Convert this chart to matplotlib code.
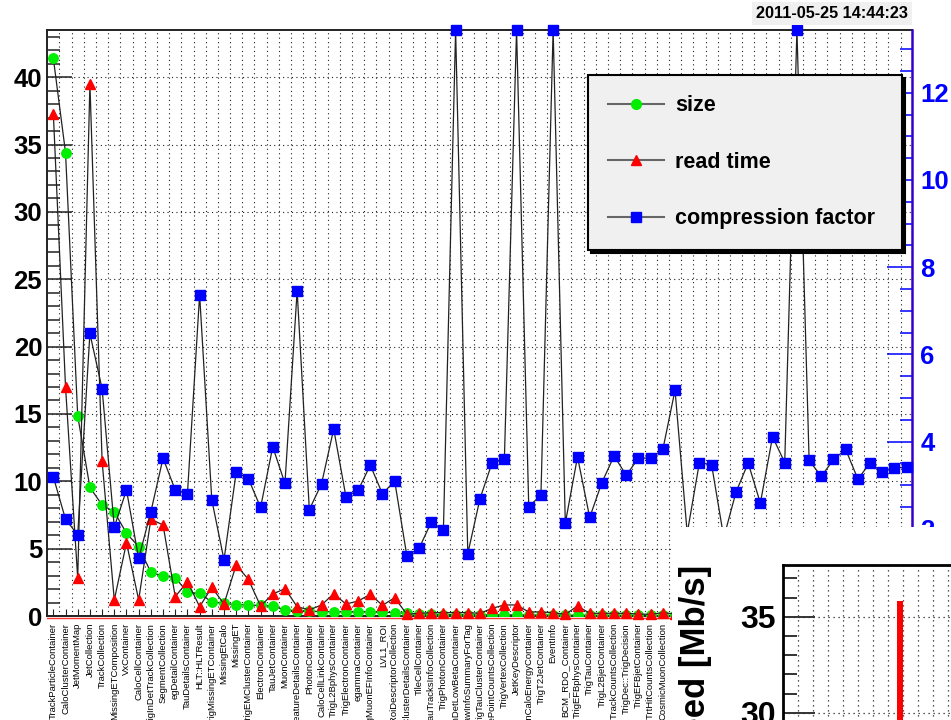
import numpy as np
import matplotlib
matplotlib.use('Agg')
import matplotlib.pyplot as plt
from matplotlib.lines import Line2D
from matplotlib.patches import Rectangle
from matplotlib.ticker import MultipleLocator, FixedLocator, NullFormatter
from matplotlib.transforms import offset_copy

plt.rcParams['font.family'] = ['Liberation Sans', 'DejaVu Sans']

# ---------------- data ----------------
categories = [
    "TrackParticleContainer", "CaloClusterContainer", "JetMomentMap", "JetCollection",
    "TrackCollection", "MissingETComposition", "VxContainer", "CaloCellContainer",
    "TrigInDetTrackCollection", "SegmentCollection", "egDetailContainer", "TauDetailsContainer",
    "HLT::HLTResult", "TrigMissingETContainer", "MissingEtCalo", "MissingET",
    "TrigEMClusterContainer", "ElectronContainer", "TauJetContainer", "MuonContainer",
    "CaloFeatureDetailsContainer", "PhotonContainer", "CaloCellLinkContainer", "TrigL2BphysContainer",
    "TrigElectronContainer", "egammaContainer", "TrigMuonEFInfoContainer", "LVL1_ROI",
    "TrigRoiDescriptorCollection", "CaloClusterDetailsContainer", "TileCellContainer",
    "TrigTauTracksInfoCollection", "TrigPhotonContainer", "InDetLowBetaContainer",
    "RawInfoSummaryForTag", "TrigTauClusterContainer", "TrigSpacePointCountsCollection",
    "TrigVertexCollection", "JetKeyDescriptor", "MuonCaloEnergyContainer", "TrigT2JetContainer",
    "EventInfo", "BCM_RDO_Container", "TrigEFBphysContainer", "TrigTauContainer",
    "TrigL2BjetContainer", "TrigTrackCountsCollection", "TrigDec::TrigDecision",
    "TrigEFBjetContainer", "TrigTrtHitCountsCollection", "CosmicMuonCollection",
    "", "", "", "", "", "", "", "", "", "", "", "", "", "", "", "", "", "", "", "",
]

size_vals = [
    41.4, 34.4, 14.85, 9.55, 8.24, 7.74, 6.14, 5.15, 3.24, 2.97,
    2.85, 1.76, 1.68, 1.04, 0.94, 0.84, 0.82, 0.78, 0.74, 0.45,
    0.40, 0.37, 0.32, 0.32, 0.30, 0.30, 0.30, 0.28, 0.25, 0.20,
    0.15, 0.12, 0.10, 0.10, 0.09, 0.09, 0.08, 0.08, 0.08, 0.07,
    0.07, 0.07, 0.06, 0.06, 0.06, 0.05, 0.05, 0.05, 0.05, 0.04,
    0.04, 0.04, 0.04, 0.04, 0.03, 0.03, 0.03, 0.03, 0.03, 0.03,
    0.02, 0.02, 0.02, 0.02, 0.02, 0.02, 0.02, 0.02, 0.02, 0.02, 0.02,
]

read_time = [
    37.3, 17.0, 2.8, 39.5, 11.5, 1.19, 5.44, 1.19, 7.18, 6.76,
    1.44, 2.55, 0.69, 2.13, 0.89, 3.79, 2.72, 0.74, 1.63, 2.03,
    0.69, 0.45, 0.82, 1.65, 0.89, 1.11, 1.61, 0.79, 1.36, 0.12,
    0.20, 0.25, 0.25, 0.25, 0.25, 0.20, 0.57, 0.82, 0.82, 0.30,
    0.30, 0.25, 0.12, 0.74, 0.20, 0.20, 0.20, 0.20, 0.15, 0.12,
    0.25, 0.15, 0.15, 0.15, 0.15, 0.15, 0.15, 0.15, 0.15, 0.15,
    0.15, 0.15, 0.15, 0.15, 0.15, 0.15, 0.15, 0.15, 0.15, 0.15, 0.15,
]

compression = [
    3.19, 2.22, 1.86, 6.48, 5.21, 2.04, 2.89, 1.32, 2.39, 3.62,
    2.89, 2.80, 7.37, 2.66, 1.29, 3.30, 3.15, 2.49, 3.88, 3.04,
    7.46, 2.44, 3.03, 4.29, 2.74, 2.88, 3.46, 2.80, 3.10, 1.38,
    1.55, 2.15, 1.98, 13.44, 1.43, 2.69, 3.52, 3.59, 13.44, 2.51,
    2.77, 13.44, 2.13, 3.65, 2.26, 3.06, 3.67, 3.23, 3.62, 3.62,
    3.82, 5.18, 1.90, 3.52, 3.47, 1.80, 2.84, 3.51, 2.59, 4.11,
    3.52, 13.44, 3.57, 3.20, 3.59, 3.82, 3.14, 3.51, 3.30, 3.40, 3.41,
]

speed_pos = [7.8]
speed_vals = [35.8]

series_labels = ["size", "read time", "compression factor"]
date_label = "2011-05-25 14:44:23"
speed_label = "Speed [Mb/s]"

# ---------------- figure ----------------
W, H = 951, 720
fig = plt.figure(figsize=(W / 100, H / 100), dpi=100)
fig.patch.set_facecolor('white')


def fx(px):
    return px / W


def fy(py):
    return 1 - py / H


ax = fig.add_axes([fx(47), fy(616), fx(912) - fx(47), fy(30) - fy(616)])
x = np.arange(len(categories))
ax.set_xlim(-0.52, 70.44)
ax.set_ylim(0, 43.5)

dot = (0, (1, 3))
# x ticks / grid
ax.set_xticks(x)
ax.set_xticklabels(categories, rotation=90, fontsize=6.8)
ax.xaxis.set_minor_locator(FixedLocator(np.arange(0.5, 70.0, 1.0)))
ax.tick_params(axis='x', which='major', direction='in', length=5, width=0.8,
               color='#222222', pad=5, top=False)
ax.tick_params(axis='x', which='minor', length=0)
ax.grid(axis='x', which='minor', linestyle=dot, color='#222222', linewidth=0.8)

# left y axis
ax.yaxis.set_major_locator(MultipleLocator(5))
ax.yaxis.set_minor_locator(MultipleLocator(1))
ax.tick_params(axis='y', which='major', direction='in', length=18, width=1.1,
               color='#222222', labelsize=18.5, pad=3.5, right=False)
ax.tick_params(axis='y', which='minor', direction='in', length=9.5, width=1.1,
               color='#222222', right=False)
for lab in ax.get_yticklabels():
    lab.set_fontweight('bold')
ax.grid(axis='y', which='major', linestyle=dot, color='#222222', linewidth=0.8)
ax.set_axisbelow(True)

for s in ['left', 'top', 'bottom']:
    ax.spines[s].set_linewidth(1.4)
    ax.spines[s].set_color('#222222')
ax.spines['right'].set_visible(False)

# thin red line just under the bottom frame
ax.plot([0, 1], [0, 0], color='#ff3333', linewidth=1.0, clip_on=False,
        transform=offset_copy(ax.transAxes, fig=fig, y=-1.6, units='points'))

line_kw = dict(color='#222222', linewidth=0.9)
ax.plot(x, size_vals, marker='o', markersize=6.8, markerfacecolor='#00ee00',
        markeredgecolor='#00ee00', zorder=3, **line_kw)
ax.plot(x, read_time, marker='^', markersize=7.2, markerfacecolor='#ff0000',
        markeredgecolor='#ff0000', zorder=4, clip_on=False, **line_kw)

# right axis
ax2 = ax.twinx()
ax2.set_ylim(0, 13.44)
ax2.plot(x, compression, marker='s', markersize=6.5, markerfacecolor='#0000ff',
         markeredgecolor='#0000ff', clip_on=False, zorder=5, **line_kw)
ax2.yaxis.set_major_locator(MultipleLocator(2))
ax2.yaxis.set_minor_locator(MultipleLocator(0.5))
ax2.tick_params(axis='y', which='major', direction='in', length=18, width=1.1,
                color='#0000ff', labelcolor='#0000ff', labelsize=18.5, pad=6)
ax2.tick_params(axis='y', which='minor', direction='in', length=9, width=1.1,
                color='#0000ff')
for lab in ax2.get_yticklabels():
    lab.set_fontweight('bold')
for s in ['left', 'top', 'bottom']:
    ax2.spines[s].set_visible(False)
ax2.spines['right'].set_color('#3300cc')
ax2.spines['right'].set_linewidth(1.8)

# legend
handles = [
    Line2D([], [], color='#666666', lw=1.5, marker='o', ms=7, mfc='#00ee00', mec='#00ee00'),
    Line2D([], [], color='#666666', lw=1.5, marker='^', ms=7, mfc='#ff0000', mec='#ff0000'),
    Line2D([], [], color='#666666', lw=1.5, marker='s', ms=6.5, mfc='#0000ff', mec='#0000ff'),
]
leg = ax2.legend(handles, series_labels, loc='upper left',
                 bbox_to_anchor=(fx(588), fy(248), fx(902) - fx(588), fy(75) - fy(248)),
                 bbox_transform=fig.transFigure, mode='expand', borderaxespad=0,
                 prop=dict(family='Liberation Sans', weight='bold', size=15.5),
                 handlelength=2.6, handletextpad=0.5, labelspacing=1.65, borderpad=0.95,
                 fancybox=False, shadow={'color': 'black', 'alpha': 1}, framealpha=1,
                 facecolor='#f0f0f0', edgecolor='black')
leg.get_frame().set_linewidth(1.5)
leg.set_zorder(10)

# date stamp
fig.text(fx(832), fy(13.5), date_label, ha='center', va='center', fontsize=11.7,
         fontweight='bold', bbox=dict(boxstyle='square,pad=0.25', fc='#f0f0f0', ec='none'))

# overlapping window (bottom-right)
fig.add_artist(Rectangle((fx(672), 0), 1 - fx(672), fy(527), transform=fig.transFigure,
                         facecolor='white', edgecolor='none', zorder=3))

ax3 = fig.add_axes([fx(783), -0.5, 1.3 - fx(783), fy(565) + 0.5])
ax3.set_zorder(4)
h3_px = (fy(565) + 0.5) * H
w3_px = (1.3 - fx(783)) * W
top3 = 35 + (616.7 - 565) / 19.2
ax3.set_ylim(top3 - h3_px / 19.2, top3)
ax3.set_xlim(0, w3_px / 15.0)
ax3.bar(speed_pos, speed_vals, width=0.4, color='#ff0000', zorder=3)
ax3.yaxis.set_major_locator(MultipleLocator(5))
ax3.yaxis.set_minor_locator(MultipleLocator(1))
ax3.xaxis.set_major_locator(FixedLocator(np.arange(1, 31)))
ax3.xaxis.set_major_formatter(NullFormatter())
ax3.tick_params(axis='x', which='both', length=0)
ax3.tick_params(axis='y', which='major', direction='in', length=23, width=1.4,
                color='#333333', labelsize=23, pad=5)
ax3.tick_params(axis='y', which='minor', direction='in', length=10, width=1.4,
                color='#333333')
for lab in ax3.get_yticklabels():
    lab.set_fontweight('bold')
ax3.grid(which='major', linestyle=dot, color='#222222', linewidth=0.9)
ax3.set_axisbelow(True)
for s in ax3.spines.values():
    s.set_linewidth(2)
    s.set_color('black')

fig.text(fx(695), fy(565), speed_label, rotation=90, ha='center', va='top',
         fontsize=25, fontweight='bold', zorder=5)

fig.savefig('out.png', dpi=100)
